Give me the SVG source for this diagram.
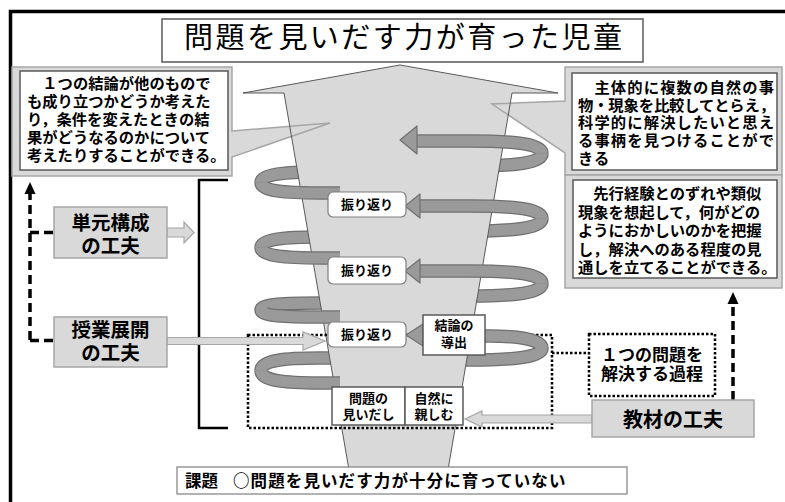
<svg xmlns="http://www.w3.org/2000/svg" width="785" height="502" viewBox="0 0 785 502">
<style>
text{font-family:"Noto Sans CJK JP","Noto Sans CJK SC",sans-serif;font-weight:700;fill:#000}
.panel{fill:#d9d9d9;stroke:#a6a6a6;stroke-width:1.5}
.wbox{fill:#fff;stroke:#595959;stroke-width:1.5}
.lbl{fill:#fff;stroke:#7f7f7f;stroke-width:1.2}
.bo{fill:none;stroke:#707070;stroke-width:13.5}
.bi{fill:none;stroke:#9a9a9a;stroke-width:11}
.head{fill:#9a9a9a;stroke:#707070;stroke-width:1.2;stroke-linejoin:round}
.hollow{fill:#d9d9d9;stroke:#a6a6a6;stroke-width:1.2}
.dash{fill:none;stroke:#000;stroke-width:3.5;stroke-dasharray:9 5}
.dot{fill:none;stroke:#000;stroke-width:2.5;stroke-dasharray:2.5 2}
.gbox{fill:#d9d9d9;stroke:#a6a6a6;stroke-width:1.5}
</style>
<defs>
<path id="bR1" d="M542,153.5 C542,163 515,166 470,166 L440,166"/>
<path id="bR2" d="M542,218.5 C542,228 515,231 470,231 L440,231"/>
<path id="bR3" d="M542,283.5 C542,293 515,296 470,296 L440,296"/>
<path id="bR4" d="M542,348 C542,357 515,360 470,360 L440,360"/>
<path id="bL1" d="M261,182.5 C261,174 285,172 320,172 L345,172"/>
<path id="bL2" d="M261,247.5 C261,239 285,237 320,237 L345,237"/>
<path id="bL3" d="M261,310 C261,304 285,303 320,303 L345,303"/>
<path id="bL4" d="M261,370.5 C261,360 285,358 320,358 L350,358"/>
<path id="fR1" d="M542,153.5 C542,144 515,141 470,141 L412,141"/>
<path id="fR2" d="M542,218.5 C542,209 515,206 470,206 L415,206"/>
<path id="fR3" d="M542,283.5 C542,274 515,271 470,271 L415,271"/>
<path id="fR4" d="M542,348 C542,339 515,336 490,336 L480,336"/>
<path id="fL1" d="M261,182.5 C261,191 285,193 320,193 L340,193"/>
<path id="fL2" d="M261,247.5 C261,256 285,258 320,258 L340,258"/>
<path id="fL3" d="M261,310 C261,316 285,317 320,317 L340,317"/>
<path id="fL4" d="M261,370.5 C261,381 285,383 320,383 L340,383"/>
</defs>
<rect width="785" height="502" fill="#fff"/>
<path d="M10.5,502 V11.5 H785" fill="none" stroke="#000" stroke-width="3.5"/>

<g id="title">
<rect x="162" y="19" width="481" height="43" class="wbox"/>
<text x="403" y="48" font-size="29" text-anchor="middle" style="font-weight:400" textLength="438">問題を見いだす力が育った児童</text>
</g>

<g id="spiral-back">
<use href="#bR1" class="bo"/><use href="#bR1" class="bi"/>
<use href="#bR2" class="bo"/><use href="#bR2" class="bi"/>
<use href="#bR3" class="bo"/><use href="#bR3" class="bi"/>
<use href="#bR4" class="bo"/><use href="#bR4" class="bi"/>
<use href="#bL1" class="bo"/><use href="#bL1" class="bi"/>
<use href="#bL2" class="bo"/><use href="#bL2" class="bi"/>
<use href="#bL3" class="bo"/><use href="#bL3" class="bi"/>
<use href="#bL4" class="bo"/><use href="#bL4" class="bi"/>
</g>

<g id="funnel-fill">
<path d="M400,65 L558,93 L512,93 L448,470 L349,470 L284,93 L243,93 Z" fill="#d9d9d9"/>
</g>

<g id="goal-left">
<path d="M12,67 H232 V131 L330,123 L232,157 V176 H12 Z" class="panel"/>
<rect x="20" y="71" width="208" height="99" class="wbox"/>
<text font-size="15.3" x="27">
<tspan x="27" y="88.5">　１つの結論が他のもので</tspan>
<tspan x="27" y="106.5">も成り立つかどうか考えた</tspan>
<tspan x="27" y="124.5">り，条件を変えたときの結</tspan>
<tspan x="27" y="142.5">果がどうなるのかについて</tspan>
<tspan x="27" y="160.5">考えたりすることができる。</tspan>
</text>
</g>

<g id="goal-right1">
<path d="M565,67 H782 V175 H565 V153 L492,104 L565,101 Z" class="panel"/>
<rect x="572" y="73" width="205" height="97" class="wbox"/>
<text x="578" y="93" font-size="15.3" textLength="196" lengthAdjust="spacing">　主体的に複数の自然の事</text>
<text x="578" y="110.7" font-size="15.3" textLength="197" lengthAdjust="spacing">物・現象を比較してとらえ，</text>
<text x="578" y="128.4" font-size="15.3" textLength="196" lengthAdjust="spacing">科学的に解決したいと思え</text>
<text x="578" y="146.1" font-size="15.3" textLength="196" lengthAdjust="spacing">る事柄を見つけることがで</text>
<text x="578" y="163.8" font-size="15.3" style="letter-spacing:0.9px">きる</text>
</g>

<g id="goal-right2">
<rect x="565" y="175" width="217" height="113" class="panel"/>
<rect x="573" y="180" width="204" height="98" class="wbox"/>
<text font-size="15.3">
<tspan x="578" y="199">　先行経験とのずれや類似</tspan>
<tspan x="578" y="217.5">現象を想起して，何がどの</tspan>
<tspan x="578" y="236">ようにおかしいのかを把握</tspan>
<tspan x="578" y="254.5">し，解決へのある程度の見</tspan>
<tspan x="578" y="273">通しを立てることができる。</tspan>
</text>
</g>

<g id="funnel-outline">
<path d="M400,65 L558,93 L512,93 L448,470 L349,470 L284,93 L243,93 Z" fill="none" stroke="#595959" stroke-width="1"/>
</g>

<g id="process-frame">
<rect x="248" y="335" width="304" height="93" class="dot"/>
</g>

<g id="spiral-front">
<use href="#fR1" class="bo"/><use href="#fR1" class="bi"/>
<use href="#fR2" class="bo"/><use href="#fR2" class="bi"/>
<use href="#fR3" class="bo"/><use href="#fR3" class="bi"/>
<use href="#fR4" class="bo"/><use href="#fR4" class="bi"/>
<use href="#fL1" class="bo"/><use href="#fL1" class="bi"/>
<use href="#fL2" class="bo"/><use href="#fL2" class="bi"/>
<use href="#fL3" class="bo"/><use href="#fL3" class="bi"/>
<use href="#fL4" class="bo"/><use href="#fL4" class="bi"/>
<polygon points="400,140 417,126 417,154" class="head"/>
<polygon points="405,206 420,194 420,218" class="head"/>
<polygon points="405,271 420,259 420,283" class="head"/>
<polygon points="406,335 423,324 423,346" class="head"/>
</g>

<g id="reflect1">
<rect x="328" y="192" width="78" height="25" rx="5" class="lbl"/>
<text x="367" y="209" font-size="13" text-anchor="middle">振り返り</text>
</g>
<g id="reflect2">
<rect x="328" y="257" width="78" height="27" rx="5" class="lbl"/>
<text x="367" y="275" font-size="13" text-anchor="middle">振り返り</text>
</g>
<g id="reflect3">
<rect x="328" y="322" width="78" height="25" rx="5" class="lbl"/>
<text x="367" y="339" font-size="13" text-anchor="middle">振り返り</text>
</g>
<g id="conclusion">
<rect x="423" y="315" width="62" height="40" class="wbox"/>
<text x="454" y="330" font-size="13" text-anchor="middle">結論の</text>
<text x="454" y="347" font-size="13" text-anchor="middle">導出</text>
</g>
<g id="finding">
<rect x="332" y="387" width="73" height="38" class="wbox"/>
<text x="368.5" y="403" font-size="13" text-anchor="middle">問題の</text>
<text x="368.5" y="419" font-size="13" text-anchor="middle">見いだし</text>
</g>
<g id="nature">
<rect x="405" y="387" width="58" height="38" class="wbox"/>
<text x="434" y="403" font-size="13" text-anchor="middle">自然に</text>
<text x="434" y="419" font-size="13" text-anchor="middle">親しむ</text>
</g>

<g id="connectors">
<path d="M30,340 V194" class="dash"/>
<polygon points="30,182 24.5,194 35.5,194" fill="#000"/>
<path d="M30,232.5 H54 M30,340.5 H54" class="dash"/>
<path d="M733,400 V304" class="dash"/>
<polygon points="733,292 727.5,304 738.5,304" fill="#000"/>
<path d="M228,180 H199 V428 H228" fill="none" stroke="#000" stroke-width="2.5"/>
<path d="M552,353 H589" class="dot"/>
<polygon points="167,228 184,228 184,222 194,232.5 184,243 184,237 167,237" class="hollow"/>
<polygon points="167,337.5 303,337.5 303,332 325,341 303,350 303,344.5 167,344.5" class="hollow"/>
<polygon points="592,415 482,415 482,411 465,419 482,427 482,423 592,423" class="hollow"/>
</g>

<g id="unit">
<rect x="54" y="207" width="113" height="51" class="gbox"/>
<text x="110.5" y="229.5" font-size="19.5" text-anchor="middle">単元構成</text>
<text x="110.5" y="252.5" font-size="19.5" text-anchor="middle">の工夫</text>
</g>
<g id="lesson">
<rect x="54" y="317" width="113" height="50" class="gbox"/>
<text x="110.5" y="336.5" font-size="19.5" text-anchor="middle">授業展開</text>
<text x="110.5" y="360" font-size="19.5" text-anchor="middle">の工夫</text>
</g>
<g id="process">
<rect x="589" y="334" width="126" height="62" class="dot"/>
<text x="652" y="361" font-size="17" text-anchor="middle">１つの問題を</text>
<text x="652" y="380" font-size="17" text-anchor="middle">解決する過程</text>
</g>
<g id="material">
<rect x="592" y="400" width="162" height="37" class="gbox"/>
<text x="673" y="426.5" font-size="20" text-anchor="middle">教材の工夫</text>
</g>
<g id="issue">
<rect x="177" y="467" width="450" height="27" fill="#fff" stroke="#7f7f7f" stroke-width="1.2"/>
<text x="185" y="487" font-size="16.5">課題</text>
<text x="233" y="487" font-size="16.5" style="letter-spacing:1.1px">○問題を見いだす力が十分に育っていない</text>
</g>
</svg>
